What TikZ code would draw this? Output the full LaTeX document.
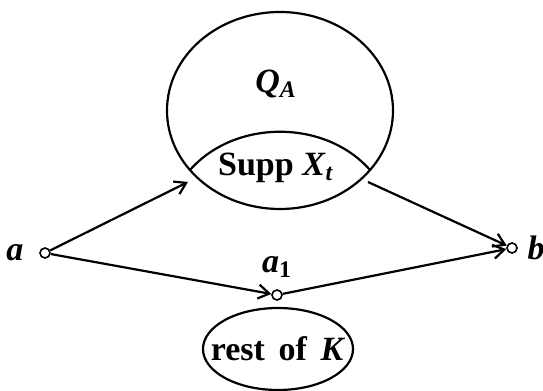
\documentclass[tikz,border=0pt]{standalone}
\usepackage{fontspec}
\setmainfont{Liberation Serif}
\usetikzlibrary{arrows.meta,shapes.geometric}

\begin{document}
\begin{tikzpicture}[x=0.5pt, y=-0.5pt, >={Straight Barb[length=5.5pt,width=7pt]}, line width=1.1pt,
    pt/.style={circle, draw, inner sep=0pt, minimum size=5pt, line width=0.8pt},
    lbl/.style={font=\fontsize{17}{20}\selectfont\bfseries}]
    \useasboundingbox (0,0) rectangle (543,391);

    % 大椭圆 Q_A 和 Supp X_t
    \draw (280,110.5) ellipse [x radius=113, y radius=98.5];
    \draw (190,170) .. controls (235,119) and (325,119) .. (370,170);
    \node[lbl] (QA) at (276,84) {\textit{Q}\textsubscript{\textit{A}}};
    \node[lbl] (supp) at (276,168) {Supp \textit{X}\textsubscript{\textit{t}}};

    % 定义坐标点
    \coordinate (suppL) at (188,182);
    \coordinate (suppR) at (368,182);
    \node[pt] (a) at (45,253) {};
    \node[pt] (a1) at (277,295) {};
    \node[pt] (b) at (512,248) {};

    % 标注
    \node[lbl, left=4pt] (la) at (a.west) {\textit{a}};
    \node[lbl, above=2pt] (la1) at (a1.north) {\textit{a}\textsubscript{1}};
    \node[lbl, right=1pt] (lb) at (b.east) {\textit{b}};

    % 箭头
    \draw[->] (a) -- (suppL);
    \draw[->] (suppR) -- (b);
    \draw[->] (a) -- (a1);
    \draw[->] (a1) -- (b);

    % rest of K
    \node[lbl, inner sep=0pt] (rest) at (278,349) {rest\hspace{0.4em}of\hspace{0.4em}\textit{K}};
    \draw (rest.center) ellipse [x radius=75, y radius=41];
\end{tikzpicture}
\end{document}
